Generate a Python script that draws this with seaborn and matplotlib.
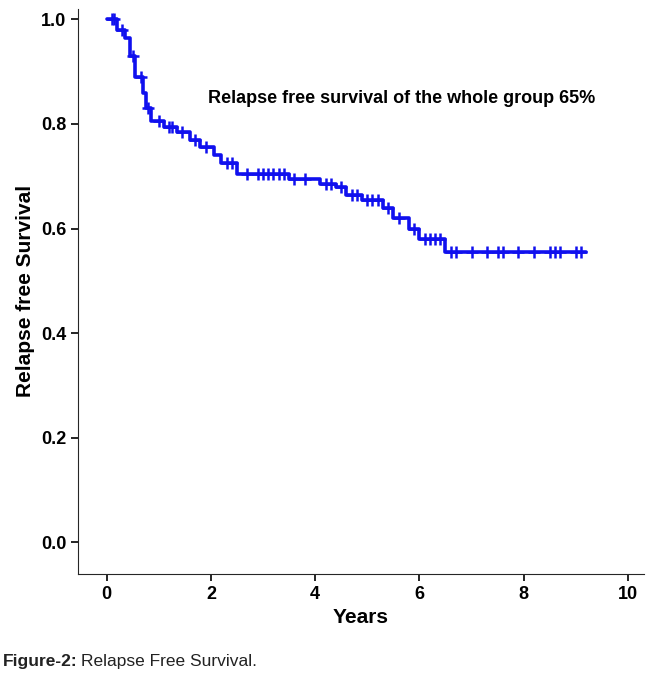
"""Kaplan-Meier style relapse free survival curve."""
import matplotlib
matplotlib.use("Agg")
import matplotlib.pyplot as plt
import numpy as np
import pandas as pd
import seaborn as sns

# step curve: time (years) at which each level starts, survival level
step_times = [0.0, 0.2, 0.35, 0.45, 0.55, 0.7, 0.75, 0.85, 1.1, 1.35, 1.6, 1.8,
              2.05, 2.2, 2.5, 3.5, 4.1, 4.4, 4.6, 4.9, 5.3, 5.5, 5.8, 6.0, 6.5, 9.2]
step_surv = [1.0, 0.98, 0.965, 0.93, 0.89, 0.86, 0.83, 0.805, 0.795, 0.785, 0.77, 0.755,
             0.74, 0.725, 0.705, 0.695, 0.685, 0.68, 0.665, 0.655, 0.64, 0.62, 0.6, 0.58,
             0.555, 0.555]

# censored observations
cens_times = [0.1, 0.15, 0.3, 0.5, 0.65, 0.8, 1.0, 1.2, 1.25, 1.45, 1.7, 1.9, 2.3, 2.4,
              2.7, 2.9, 3.0, 3.1, 3.2, 3.3, 3.4, 3.6, 3.8, 4.2, 4.3, 4.5, 4.7, 4.8, 5.0,
              5.1, 5.2, 5.4, 5.6, 5.9, 6.1, 6.2, 6.3, 6.4, 6.6, 6.7, 7.0, 7.3, 7.5, 7.6,
              7.9, 8.2, 8.5, 8.6, 8.7, 9.0, 9.1]


def surv_at(t):
    idx = np.searchsorted(step_times, t, side="right") - 1
    return step_surv[idx]


curve = pd.DataFrame({"time": step_times, "surv": step_surv})
cens = pd.DataFrame({"time": cens_times, "surv": [surv_at(t) for t in cens_times]})

sns.set_style("ticks")
plt.rcParams["font.family"] = ["Liberation Sans", "DejaVu Sans"]
plt.rcParams["text.color"] = "black"
fig = plt.figure(figsize=(6.5, 6.83), dpi=100)
ax = fig.add_axes([0.12, 0.16, 0.87, 0.827])

sns.lineplot(data=curve, x="time", y="surv", drawstyle="steps-post",
             color="#1010ee", linewidth=2.6, ax=ax)
sns.scatterplot(data=cens, x="time", y="surv", marker="+", s=70, color="#1010ee",
                linewidth=1.8, ax=ax, zorder=3)

ax.set_xlim(-0.55, 10.3)
ax.set_ylim(-0.06, 1.02)
ax.set_xticks(np.arange(0, 11, 2))
ax.set_yticks(np.arange(0, 1.01, 0.2))
ax.set_yticklabels([f"{v:.1f}" for v in np.arange(0, 1.01, 0.2)])
sns.despine(ax=ax)
ax.tick_params(labelsize=13, width=1.2, length=5, colors="black")
for lab in ax.get_xticklabels() + ax.get_yticklabels():
    lab.set_fontweight("bold")
ax.set_xlabel("Years", fontsize=15, fontweight="bold", color="black")
ax.set_ylabel("Relapse free Survival", fontsize=15, fontweight="bold", color="black")

ax.text(1.95, 0.84, "Relapse free survival of the whole group 65%",
        fontsize=13, fontweight="bold")

fig.text(0.005, 0.025, "Figure-2:", fontsize=12.5, fontweight="bold", color="#222222")
fig.text(0.125, 0.025, "Relapse Free Survival.", fontsize=12.5, color="#222222")

fig.savefig("out.png", dpi=100)
